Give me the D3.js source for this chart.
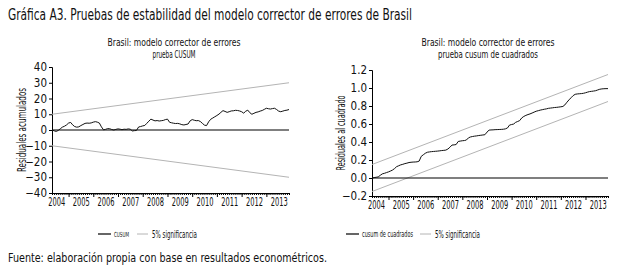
<!DOCTYPE html>
<html>
<head>
<meta charset="utf-8">
<script src="https://cdn.jsdelivr.net/npm/d3@7"></script>
<style>
  body { margin: 0; background: #fff; }
  svg text { font-family: "Liberation Sans Narrow", "DejaVu Sans Condensed", "Roboto Condensed", sans-serif; fill: #111; }
</style>
</head>
<body>
<div id="chart"></div>
<script>
// first month of the recursive series and year labels
const startMonth = new Date(2004, 4, 1);
const endMonth = new Date(2013, 11, 1);
const yearLabels = [2004, 2005, 2006, 2007, 2008, 2009, 2010, 2011, 2012, 2013];

// CUSUM, monthly from 2004M5
const cusum = [
  0.0, -0.5, -0.9, -0.3, 0.8, 1.8, 2.4, 3.2, 4.4, 4.8, 3.3, 2.2, 1.8, 2.0, 2.8, 3.5,
  4.2, 4.4, 4.3, 4.5, 5.0, 5.3, 5.0, 4.4, 2.0, 0.1, 0.4, 0.9, 0.8, 0.3, 0.0, 0.4,
  0.7, 0.5, 0.2, 0.5, 0.4, 0.7, 0.5, -0.6, -0.4, -0.3, 1.9, 2.2, 2.6, 2.9, 4.2, 5.6,
  6.9, 6.3, 5.8, 6.0, 5.7, 5.9, 6.1, 6.6, 6.9, 4.9, 4.6, 4.3, 4.1, 4.2, 3.9, 3.4,
  3.2, 3.5, 3.8, 5.8, 6.6, 6.2, 5.9, 6.0, 5.4, 4.2, 3.1, 2.8, 5.2, 6.8, 7.6, 8.4,
  9.2, 10.1, 11.2, 12.3, 11.8, 11.2, 11.6, 12.1, 12.2, 12.5, 12.4, 12.1, 11.6, 10.7, 11.9, 12.6,
  11.0, 10.0, 10.6, 11.2, 11.5, 12.0, 12.4, 13.1, 13.8, 13.5, 13.3, 13.6, 13.8, 13.0, 12.0, 11.6,
  12.0, 12.4, 12.6, 13.0
];
const cusumUpper = [10, 30];
const cusumLower = [-10, -30];
const cusumTicks = [40, 30, 20, 10, 0, -10, -20, -30, -40];

// CUSUM of squares, monthly from 2004M5
const cusumSq = [
  0.000, 0.004, 0.008, 0.012, 0.030, 0.046, 0.052, 0.060, 0.068, 0.078, 0.088, 0.105, 0.126, 0.136, 0.146, 0.152,
  0.160, 0.165, 0.172, 0.175, 0.177, 0.178, 0.180, 0.188, 0.240, 0.258, 0.275, 0.286, 0.290, 0.293, 0.295, 0.297,
  0.299, 0.302, 0.305, 0.307, 0.310, 0.322, 0.342, 0.366, 0.368, 0.372, 0.406, 0.410, 0.414, 0.416, 0.422, 0.446,
  0.456, 0.461, 0.465, 0.468, 0.472, 0.475, 0.478, 0.481, 0.510, 0.532, 0.534, 0.535, 0.537, 0.538, 0.539, 0.540,
  0.542, 0.546, 0.556, 0.588, 0.594, 0.600, 0.618, 0.628, 0.638, 0.668, 0.684, 0.696, 0.705, 0.712, 0.722, 0.732,
  0.742, 0.748, 0.754, 0.759, 0.764, 0.768, 0.774, 0.777, 0.780, 0.783, 0.785, 0.788, 0.791, 0.795, 0.812, 0.842,
  0.868, 0.892, 0.915, 0.930, 0.934, 0.936, 0.938, 0.941, 0.947, 0.954, 0.960, 0.963, 0.966, 0.970, 0.978, 0.986,
  0.990, 0.992, 0.993, 0.993
];
const sqUpper = [0.15, 1.15];
const sqLower = [-0.15, 0.85];
const sqTicks = [1.2, 1.0, 0.8, 0.6, 0.4, 0.2, 0.0, -0.2];

const W = 621, H = 278;
const FONT = '"Liberation Sans Narrow", "DejaVu Sans Condensed", sans-serif';
const svg = d3.select('#chart').append('svg')
  .attr('width', W).attr('height', H);

svg.append('text')
  .attr('x', 8).attr('y', 20)
  .attr('font-size', 15)
  .attr('textLength', 404).attr('lengthAdjust', 'spacingAndGlyphs')
  .text('Gráfica A3. Pruebas de estabilidad del modelo corrector de errores de Brasil');

svg.append('text')
  .attr('x', 8).attr('y', 262)
  .attr('font-size', 13)
  .attr('textLength', 319).attr('lengthAdjust', 'spacingAndGlyphs')
  .text('Fuente: elaboración propia con base en resultados econométricos.');

function panel(opt) {
  const g = svg.append('g');
  const x = d3.scaleTime().domain([startMonth, endMonth]).range([opt.left, opt.right]);
  const y = d3.scaleLinear().domain(opt.domain).range([opt.bottom, opt.top]);
  const dates = opt.values.map((v, i) => d3.timeMonth.offset(startMonth, i));

  // titles
  g.append('text')
    .attr('x', opt.titleX).attr('y', 46)
    .attr('text-anchor', 'middle').attr('font-size', 10)
    .attr('textLength', 133).attr('lengthAdjust', 'spacingAndGlyphs')
    .text('Brasil: modelo corrector de errores');
  g.append('text')
    .attr('x', opt.titleX).attr('y', 58)
    .attr('text-anchor', 'middle').attr('font-size', 10)
    .attr('textLength', opt.subLen).attr('lengthAdjust', 'spacingAndGlyphs')
    .text(opt.subtitle);

  // y axis
  const yAxis = g.append('g')
    .attr('transform', `translate(${opt.left},0)`)
    .call(d3.axisLeft(y).tickValues(opt.ticks).tickSize(3).tickPadding(2).tickFormat(opt.fmt));
  yAxis.select('.domain').attr('stroke', '#000');
  yAxis.selectAll('.tick line').attr('stroke', '#000');
  yAxis.selectAll('text').attr('font-size', 11.5).style('font-family', FONT);

  g.append('text')
    .attr('transform', `translate(${opt.labelX},${(opt.top + opt.bottom) / 2}) rotate(-90)`)
    .attr('text-anchor', 'middle').attr('font-size', 12)
    .attr('textLength', opt.labelLen).attr('lengthAdjust', 'spacingAndGlyphs')
    .text(opt.ylabel);

  // x axis with monthly minor ticks and year boundaries
  const xAxisY = y(opt.domain[0]);
  const months = d3.timeMonth.range(startMonth, d3.timeMonth.offset(endMonth, 1));
  g.append('g').attr('transform', `translate(0,${xAxisY})`)
    .call(d3.axisBottom(x).tickValues(months).tickSize(2).tickFormat(''))
    .call(a => a.select('.domain').attr('stroke', '#000'))
    .call(a => a.selectAll('.tick line').attr('stroke', '#000'));
  g.append('g').attr('transform', `translate(0,${xAxisY})`)
    .call(d3.axisBottom(x).tickValues(months.filter(d => d.getMonth() === 0)).tickSize(4).tickFormat(''))
    .call(a => a.select('.domain').remove())
    .call(a => a.selectAll('.tick line').attr('stroke', '#000'));
  g.append('g').attr('transform', `translate(0,${xAxisY})`)
    .call(d3.axisBottom(x).tickValues(yearLabels.map(yr => new Date(yr, 6, 1))).tickSize(0).tickPadding(5).tickFormat(d3.timeFormat('%Y')))
    .call(a => a.select('.domain').remove())
    .selectAll('text')
    .attr('font-size', 11.5)
    .attr('textLength', 17).attr('lengthAdjust', 'spacingAndGlyphs')
    .style('font-family', FONT);

  // significance bands
  const ends = [startMonth, endMonth];
  const line = d3.line().x(d => x(d[0])).y(d => y(d[1]));
  [opt.upper, opt.lower].forEach(b => {
    g.append('path')
      .attr('d', line(ends.map((d, i) => [d, b[i]])))
      .attr('fill', 'none').attr('stroke', '#b4b4b4').attr('stroke-width', 1);
  });

  // zero line
  g.append('line')
    .attr('x1', x(startMonth)).attr('x2', x(endMonth))
    .attr('y1', y(0)).attr('y2', y(0))
    .attr('stroke', '#000').attr('stroke-width', 1.2);

  // statistic
  g.append('path')
    .attr('d', line(opt.values.map((v, i) => [dates[i], v])))
    .attr('fill', 'none').attr('stroke', '#111').attr('stroke-width', 1);

  // legend
  const lg = g.append('g').attr('transform', `translate(0,234)`);
  lg.append('line').attr('x1', opt.leg[0]).attr('x2', opt.leg[0] + 13).attr('y1', 0).attr('y2', 0)
    .attr('stroke', '#000').attr('stroke-width', 1.2);
  lg.append('text').attr('x', opt.leg[0] + 16).attr('y', 3).attr('font-size', opt.legSize)
    .attr('textLength', opt.legLen).attr('lengthAdjust', 'spacingAndGlyphs').text(opt.legName);
  lg.append('line').attr('x1', opt.leg[1]).attr('x2', opt.leg[1] + 11).attr('y1', 0).attr('y2', 0)
    .attr('stroke', '#b4b4b4').attr('stroke-width', 1);
  lg.append('text').attr('x', opt.leg[1] + 15).attr('y', 4).attr('font-size', 10)
    .attr('textLength', 45).attr('lengthAdjust', 'spacingAndGlyphs').text('5% significancia');
}

panel({
  left: 52, right: 289, top: 67, bottom: 193,
  domain: [-40, 40], ticks: cusumTicks, fmt: d3.format('d'),
  values: cusum, upper: cusumUpper, lower: cusumLower,
  titleX: 174, subtitle: 'prueba CUSUM', subLen: 43,
  ylabel: 'Residuales acumulados', labelX: 26, labelLen: 84,
  leg: [98, 137], legName: 'CUSUM', legSize: 7, legLen: 15
});

panel({
  left: 372, right: 608, top: 70, bottom: 196,
  domain: [-0.2, 1.2], ticks: sqTicks, fmt: d3.format('.1f'),
  values: cusumSq, upper: sqUpper, lower: sqLower,
  titleX: 488, subtitle: 'prueba cusum de cuadrados', subLen: 100,
  ylabel: 'Residuales al cuadrado', labelX: 345, labelLen: 75,
  leg: [346, 420], legName: 'cusum de cuadrados', legSize: 8.5, legLen: 51
});
</script>
</body>
</html>
